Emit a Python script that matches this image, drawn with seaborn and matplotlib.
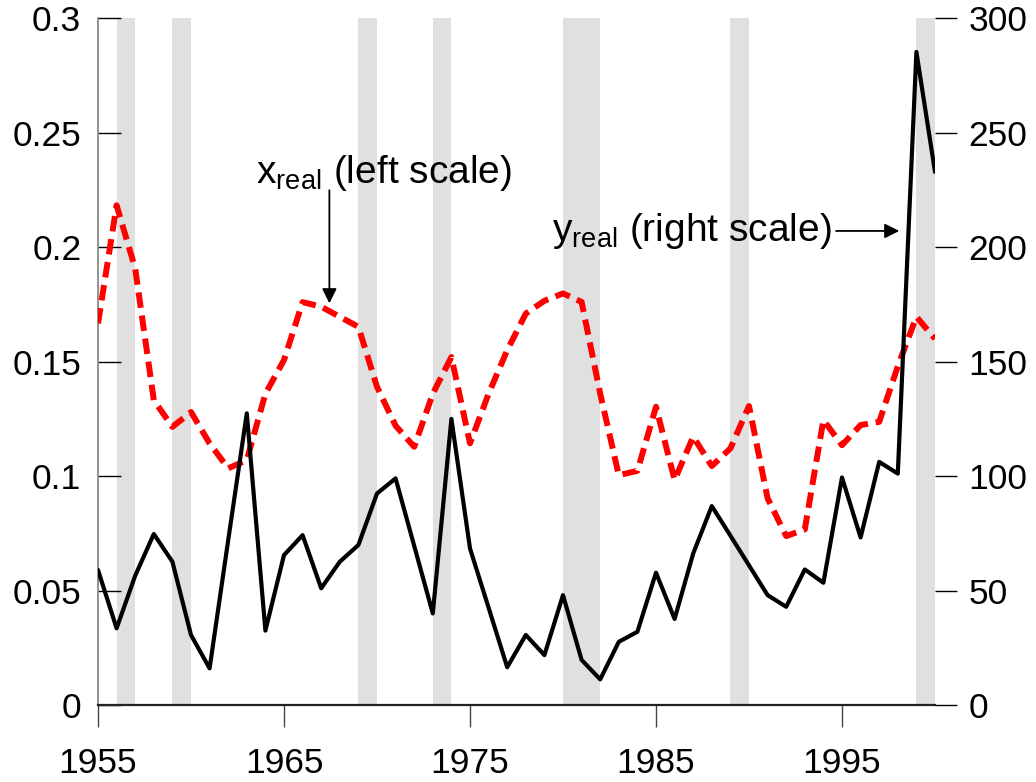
import numpy as np
import pandas as pd
import matplotlib
matplotlib.use("Agg")
import matplotlib.pyplot as plt
import seaborn as sns

# ---- data ----
years = list(range(1955, 2001))
x_real = [0.1667, 0.2183, 0.1907, 0.1332, 0.1215, 0.1280, 0.1143, 0.1034, 0.1070, 0.1360,
          0.1507, 0.1760, 0.1740, 0.1696, 0.1652, 0.1390, 0.1220, 0.1128, 0.1360, 0.1520,
          0.1143, 0.1360, 0.1550, 0.1710, 0.1766, 0.1798, 0.1761, 0.1360, 0.1004, 0.1023,
          0.1303, 0.0983, 0.1172, 0.1044, 0.1121, 0.1306, 0.0903, 0.0738, 0.0767, 0.1245,
          0.1135, 0.1223, 0.1237, 0.1480, 0.1696, 0.1600]
y_real = [59.0, 33.5, 56.5, 74.7, 62.6, 30.6, 16.0, 72.0, 127.4, 32.5,
          65.5, 74.2, 51.0, 62.6, 69.9, 92.4, 99.0, 69.5, 40.0, 125.0,
          68.4, 42.5, 16.5, 30.6, 21.8, 48.0, 19.7, 11.2, 27.6, 32.0,
          57.8, 37.6, 66.2, 86.9, 74.0, 61.0, 48.0, 42.9, 59.2, 53.4,
          99.4, 73.2, 106.2, 101.1, 285.3, 232.9]
band_starts = [1956, 1959, 1969, 1973, 1980, 1989, 1999]
band_ends = [1957, 1960, 1970, 1974, 1982, 1990, 2000]
left_ticks = [0, 0.05, 0.1, 0.15, 0.2, 0.25, 0.3]
left_labels = ["0", "0.05", "0.1", "0.15", "0.2", "0.25", "0.3"]
right_ticks = [0, 50, 100, 150, 200, 250, 300]
right_labels = ["0", "50", "100", "150", "200", "250", "300"]
x_ticks = [1955, 1965, 1975, 1985, 1995]
x_labels = ["1955", "1965", "1975", "1985", "1995"]

df = pd.DataFrame({"year": years, "x_real": x_real, "y_real": y_real})

sns.set_style("white")
plt.rcParams["font.family"] = ["Liberation Sans", "DejaVu Sans"]
plt.rcParams["mathtext.fontset"] = "custom"
plt.rcParams["mathtext.rm"] = "Liberation Sans"
plt.rcParams["mathtext.it"] = "Liberation Sans"
plt.rcParams["text.color"] = "black"
plt.rcParams["xtick.labelcolor"] = "black"
plt.rcParams["ytick.labelcolor"] = "black"

FS = 25.5
FS_ANN = 28
fig = plt.figure(figsize=(10.36, 7.82), dpi=100)
ax = fig.add_axes([98 / 1036, 1 - 705 / 782, (935 - 98) / 1036, (705 - 18.3) / 782])
ax2 = ax.twinx()

for s, e in zip(band_starts, band_ends):
    ax.axvspan(s, e, color="#e0e0e0", lw=0, zorder=0)

sns.lineplot(data=df, x="year", y="x_real", ax=ax, color="#ff0000", lw=4.3, zorder=3)
ax.lines[-1].set_dashes((2.6, 1.3))
ax.lines[-1].set_dash_capstyle("butt")

sns.lineplot(data=df, x="year", y="y_real", ax=ax2, color="black", lw=3, zorder=4)

ax.set_xlim(1955, 2000)
ax.set_ylim(0, 0.3)
ax2.set_ylim(0, 300)
ax.set_xlabel("")
ax.set_ylabel("")
ax2.set_ylabel("")

ax.set_yticks(left_ticks)
ax.set_yticklabels(left_labels)
ax2.set_yticks(right_ticks)
ax2.set_yticklabels(right_labels)
ax.set_xticks(x_ticks)
ax.set_xticklabels(x_labels)

ax.tick_params(axis="y", direction="in", length=16.5, width=1, pad=12,
               labelsize=FS, color="black", labelcolor="black", left=True)
ax.tick_params(axis="x", direction="out", length=16, width=1, pad=14,
               labelsize=FS, color="#444444", labelcolor="black", bottom=True)
ax2.tick_params(axis="y", direction="out", length=16, width=1, pad=8,
                labelsize=FS, color="black", labelcolor="black", right=True)

for sp in ["top", "right"]:
    ax.spines[sp].set_visible(False)
for sp in ax2.spines.values():
    sp.set_visible(False)
ax.spines["left"].set_color("#808080")
ax.spines["left"].set_linewidth(1.2)
ax.spines["bottom"].set_color("#222222")
ax.spines["bottom"].set_linewidth(1.6)
ax.spines["bottom"].set_zorder(5)

ax.text(1963.48, 0.2281, r"x$_{\mathregular{real}}$ (left scale)", fontsize=FS_ANN,
        ha="left", va="baseline", color="black")
ax.annotate("", xy=(1967.44, 0.1755), xytext=(1967.44, 0.2249),
            arrowprops=dict(arrowstyle="-|>", color="black", lw=1.3,
                            mutation_scale=22, shrinkA=0, shrinkB=0))

ax2.text(1979.39, 202.6, r"y$_{\mathregular{real}}$ (right scale)", fontsize=FS_ANN,
         ha="left", va="baseline", color="black")
ax2.annotate("", xy=(1998.08, 207.1), xytext=(1994.68, 207.1),
             arrowprops=dict(arrowstyle="-|>", color="black", lw=1.3,
                             mutation_scale=22, shrinkA=0, shrinkB=0))

fig.savefig("out.png", dpi=100)
